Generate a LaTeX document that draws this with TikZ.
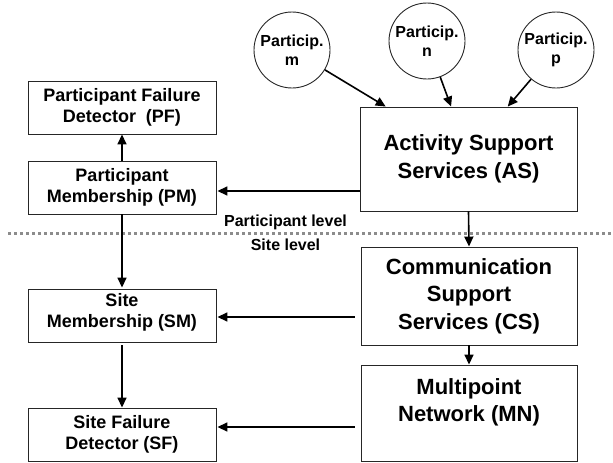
\documentclass[tikz,border=0pt]{standalone}
\usepackage{fontspec}
\setmainfont{Liberation Sans}
\usetikzlibrary{arrows.meta,calc}
\begin{document}
\begin{tikzpicture}[x=1pt,y=-1pt,
  box/.style={draw=black!85,line width=0.9pt,align=center,inner sep=0pt,
    font=\fontsize{18}{21}\selectfont\bfseries},
  boxtext/.style={align=center,inner sep=0pt,font=\fontsize{18}{21}\selectfont\bfseries},
  bigbox/.style={draw=black!85,line width=0.9pt,align=center,inner sep=0pt,
    font=\fontsize{22}{27.5}\selectfont\bfseries},
  bigtext/.style={align=center,inner sep=0pt,font=\fontsize{22}{27.5}\selectfont\bfseries},
  part/.style={draw=black!85,line width=0.9pt,circle,minimum size=76pt,inner sep=0pt,align=center,
    font=\fontsize{16}{19}\selectfont\bfseries},
  lvl/.style={font=\fontsize{16}{19}\selectfont\bfseries,inner sep=0pt},
  arr/.style={line width=1.6pt,-{Triangle[length=10pt,width=9pt]}},
  sep/.style={draw=black!45,line width=3pt,dash pattern=on 3pt off 3pt}
]
\useasboundingbox (0,0) rectangle (613,463);

% left column
\node[box,minimum width=188pt,minimum height=53pt] (PF) at (122,107.5) {Participant Failure\\Detector\ \ (PF)};
\node[box,minimum width=188pt,minimum height=53pt] (PM) at (122,187.5) {Participant\\Membership (PM)};
\node[box,minimum width=188pt,minimum height=53pt] (SM) at (122,315.5) {};
\node[boxtext] (SMt) at (122,312.5) {Site\\Membership (SM)};
\node[box,minimum width=188pt,minimum height=53pt] (SF) at (122,434.5) {Site Failure\\Detector (SF)};

% right column
\node[bigbox,minimum width=217pt,minimum height=104pt] (AS) at (468.5,159) {Activity Support\\Services (AS)};
\node[bigbox,minimum width=216pt,minimum height=98pt] (CS) at (469,296) {Communication\\Support\\Services (CS)};
\node[bigbox,minimum width=216pt,minimum height=96pt] (MN) at (469,413) {};
\node[bigtext] (MNt) at (469,402.5) {Multipoint\\Network (MN)};

% participants
\node[part] (Pm) at (292,50) {Particip.\\m};
\node[part] (Pn) at (427,41) {Particip.\\n};
\node[part] (Pp) at (556,50) {Particip.\\p};

% level separator
\coordinate (sepL) at (8,233);
\coordinate (sepR) at (613,233);
\draw[sep] (sepL) -- (sepR);
\node[lvl] (lvP) at (285.5,222) {Participant level};
\node[lvl] (lvS) at (285.5,245) {Site level};

% connectors
\coordinate (ASm) at ($(AS.north west)!0.12!(AS.north east)$);
\coordinate (ASn) at ($(AS.north west)!0.42!(AS.north east)$);
\coordinate (ASp) at ($(AS.north west)!0.68!(AS.north east)$);
\draw[arr] (Pm) -- (ASm);
\draw[arr] (Pn) -- (ASn);
\draw[arr] (Pp) -- (ASp);

\draw[arr] (PM.north) -- (PF.south);
\coordinate (PMin) at ([yshift=-3.5pt]PM.east);
\draw[arr,shorten >=1pt] (AS.west |- PMin) -- (PMin);
\draw[arr,shorten >=1pt] (PM.south) -- (SM.north);
\draw[arr,shorten <=3pt] (SM.south) -- (SF.north);
\draw[arr] (AS.south) -- (CS.north);
\draw[arr] (CS.south) -- (MN.north);
\coordinate (SMin) at ([yshift=-1.5pt]SM.east);
\draw[arr,shorten <=6pt,shorten >=1pt] (CS.west |- SMin) -- (SMin);
\coordinate (SFin) at ([yshift=7.5pt]SF.east);
\draw[arr,shorten <=6pt,shorten >=1pt] (MN.west |- SFin) -- (SFin);
\end{tikzpicture}
\end{document}
